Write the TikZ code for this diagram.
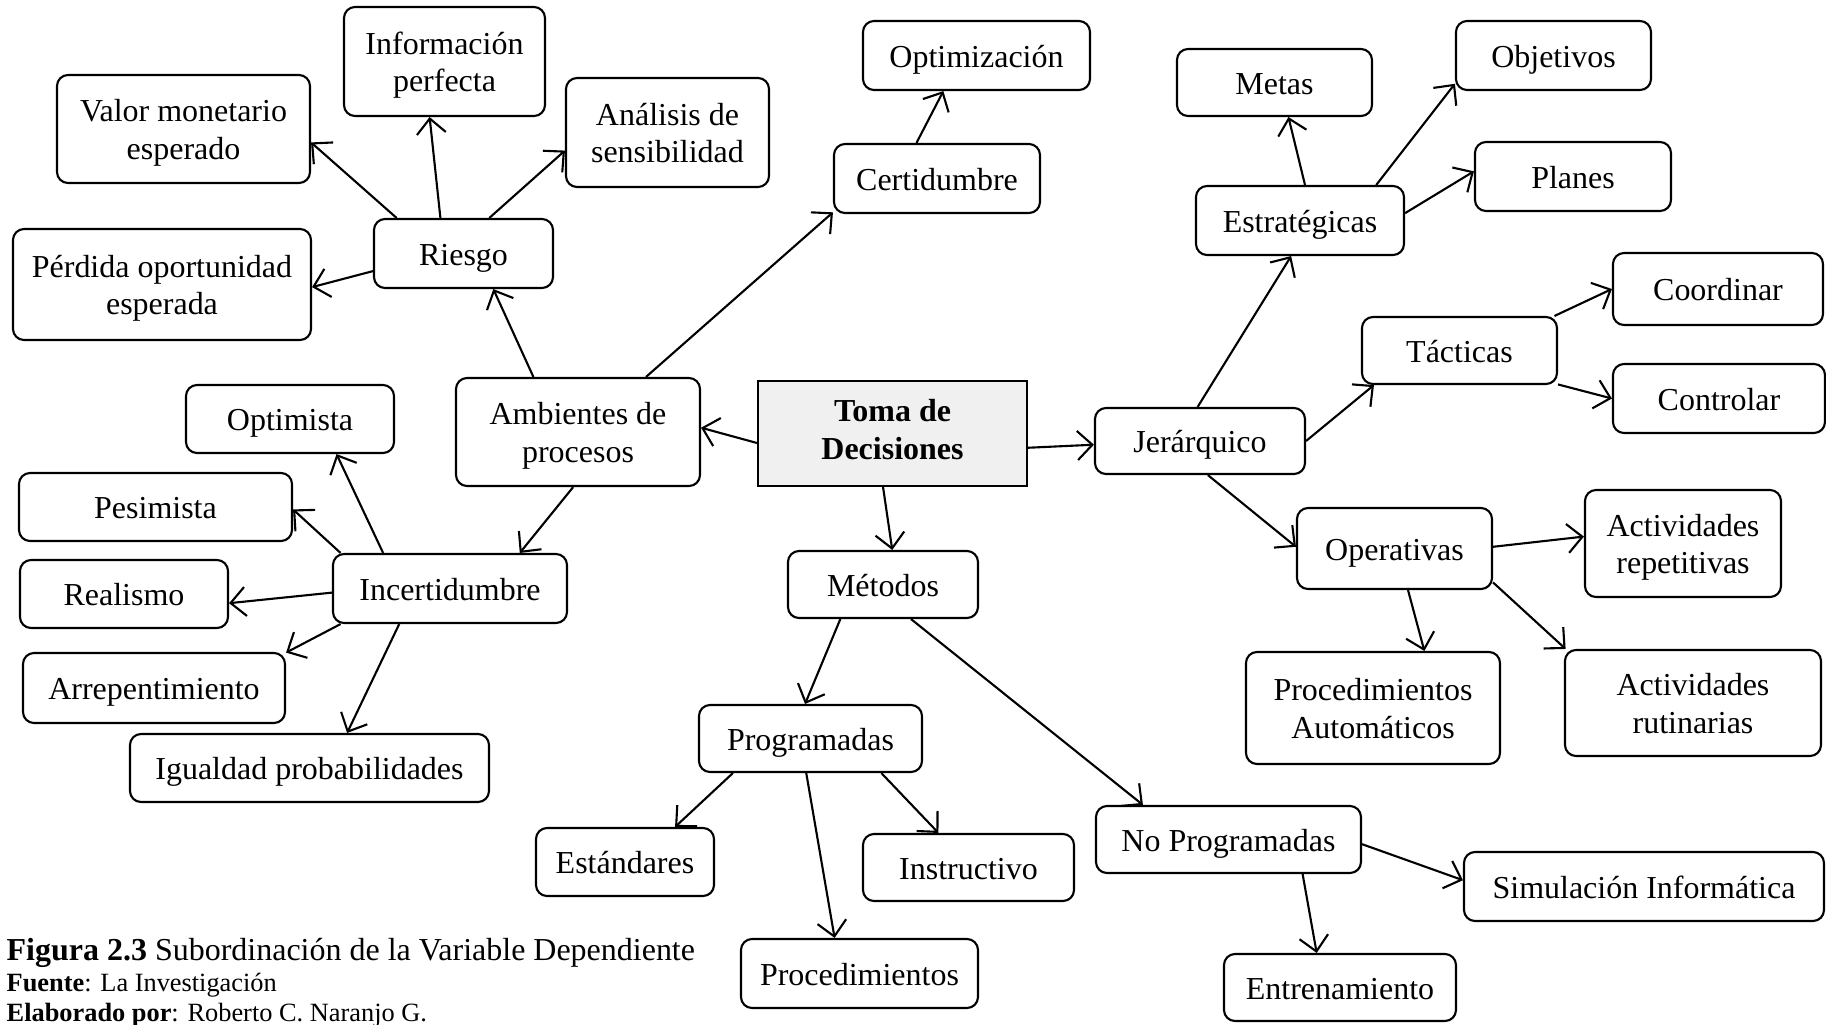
\documentclass[tikz,border=0pt]{standalone}
\usepackage{fontspec}
\setmainfont{Liberation Serif}
\usetikzlibrary{arrows.meta}
\definecolor{tomagray}{RGB}{240,240,240}

\begin{document}
\begin{tikzpicture}[
  box/.style={draw, rounded corners=1.1mm, line width=0.6pt, align=center, inner sep=0pt,
    font=\fontsize{9.1}{10.6}\selectfont, text height=9.2pt, text depth=2.6pt},
  box2/.style={box, text height=19.8pt, text depth=2.6pt},
  mainbox/.style={draw, fill=tomagray, line width=0.6pt, align=center, inner sep=0pt,
    font=\bfseries\fontsize{9.1}{10.8}\selectfont, text height=17.3pt, text depth=2.6pt},
  arr/.style={line width=0.6pt, -{Straight Barb[length=1.5mm,width=2.9mm]}},
  note/.style={anchor=base west, inner sep=0pt}
]
  \useasboundingbox (0,0) rectangle (18.26,-10.24);
  % ambientes
  \node[box2, minimum width=2.01cm, minimum height=1.09cm] (info) at (4.445,-0.615) {Información\\perfecta};
  \node[box2, minimum width=2.53cm, minimum height=1.08cm] (valor) at (1.835,-1.29) {Valor monetario\\esperado};
  \node[box2, minimum width=2.03cm, minimum height=1.09cm] (analisis) at (6.675,-1.325) {Análisis de\\sensibilidad};
  \node[box, minimum width=1.79cm, minimum height=0.69cm] (riesgo) at (4.635,-2.535) {Riesgo};
  \node[box2, minimum width=2.98cm, minimum height=1.11cm] (perdida) at (1.62,-2.845) {Pérdida oportunidad\\esperada};
  \node[box, minimum width=2.27cm, minimum height=0.69cm] (optimiz) at (9.765,-0.555) {Optimización};
  \node[box, minimum width=2.06cm, minimum height=0.69cm] (certid) at (9.37,-1.785) {Certidumbre};
  \node[box, minimum width=2.08cm, minimum height=0.68cm] (optimista) at (2.90,-4.19) {Optimista};
  \node[box2, minimum width=2.44cm, minimum height=1.08cm] (ambientes) at (5.78,-4.32) {Ambientes de\\procesos};
  \node[box, minimum width=2.73cm, minimum height=0.68cm] (pesimista) at (1.555,-5.07) {Pesimista};
  \node[box, minimum width=2.34cm, minimum height=0.69cm] (incert) at (4.50,-5.885) {Incertidumbre};
  \node[box, minimum width=2.08cm, minimum height=0.68cm] (realismo) at (1.24,-5.94) {Realismo};
  \node[box, minimum width=2.62cm, minimum height=0.70cm] (arrep) at (1.54,-6.88) {Arrepentimiento};
  \node[box, minimum width=3.59cm, minimum height=0.68cm] (igualdad) at (3.095,-7.68) {Igualdad probabilidades};
  % centro
  \node[mainbox, minimum width=2.69cm, minimum height=1.05cm] (toma) at (8.925,-4.335) {Toma de\\Decisiones};
  % jerarquico
  \node[box, minimum width=2.10cm, minimum height=0.66cm] (jerarq) at (12.00,-4.41) {Jerárquico};
  \node[box, minimum width=1.95cm, minimum height=0.67cm] (metas) at (12.745,-0.825) {Metas};
  \node[box, minimum width=1.95cm, minimum height=0.69cm] (objetivos) at (15.535,-0.555) {Objetivos};
  \node[box, minimum width=1.96cm, minimum height=0.69cm] (planes) at (15.73,-1.765) {Planes};
  \node[box, minimum width=2.08cm, minimum height=0.69cm] (estrat) at (13.00,-2.205) {Estratégicas};
  \node[box, minimum width=2.10cm, minimum height=0.72cm] (coordinar) at (17.18,-2.89) {Coordinar};
  \node[box, minimum width=1.95cm, minimum height=0.67cm] (tacticas) at (14.595,-3.505) {Tácticas};
  \node[box, minimum width=2.12cm, minimum height=0.69cm] (controlar) at (17.19,-3.985) {Controlar};
  \node[box, minimum width=1.95cm, minimum height=0.81cm] (operativas) at (13.945,-5.485) {Operativas};
  \node[box2, minimum width=1.96cm, minimum height=1.07cm] (actrep) at (16.83,-5.435) {Actividades\\repetitivas};
  \node[box2, minimum width=2.54cm, minimum height=1.12cm] (procaut) at (13.73,-7.08) {Procedimientos\\Automáticos};
  \node[box2, minimum width=2.56cm, minimum height=1.06cm] (actrut) at (16.93,-7.03) {Actividades\\rutinarias};
  % metodos
  \node[box, minimum width=1.90cm, minimum height=0.67cm] (metodos) at (8.83,-5.845) {Métodos};
  \node[box, minimum width=2.23cm, minimum height=0.67cm] (programadas) at (8.105,-7.385) {Programadas};
  \node[box, minimum width=1.78cm, minimum height=0.68cm] (estandares) at (6.25,-8.62) {Estándares};
  \node[box, minimum width=2.11cm, minimum height=0.67cm] (instructivo) at (9.685,-8.675) {Instructivo};
  \node[box, minimum width=2.37cm, minimum height=0.69cm] (procedim) at (8.595,-9.735) {Procedimientos};
  \node[box, minimum width=2.65cm, minimum height=0.67cm] (noprog) at (12.285,-8.395) {No Programadas};
  \node[box, minimum width=3.60cm, minimum height=0.69cm] (simulacion) at (16.44,-8.865) {Simulación Informática};
  \node[box, minimum width=2.32cm, minimum height=0.67cm] (entrenam) at (13.40,-9.875) {Entrenamiento};

  \draw[arr] (riesgo.152) -- (valor.-6);
  \draw[arr] (riesgo.123) -- (info.255);
  \draw[arr] (riesgo.54) -- (analisis.190);
  \draw[arr] (riesgo.191) -- (perdida.-1);
  \draw[arr] (ambientes.129) -- (riesgo.-50);
  \draw[arr] (ambientes.39) -- (certid.198);
  \draw[arr] (certid.120) -- (optimiz.227);
  \draw[arr] (toma.184) -- (ambientes.2);
  \draw[arr] (ambientes.265) -- (incert.27);
  \draw[arr] (incert.152) -- (optimista.-37);
  \draw[arr] (incert.162) -- (pesimista.-1);
  \draw[arr] (incert.182) -- (realismo.-5);
  \draw[arr] (incert.198) -- (arrep.15);
  \draw[arr] (incert.215) -- (igualdad.43);
  \draw[arr] (toma.-6) -- (jerarq.182);
  \draw[arr] (toma.260) -- (metodos.75);
  \draw[arr] (jerarq.94) -- (estrat.256);
  \draw[arr] (estrat.82) -- (metas.-68);
  \draw[arr] (estrat.25) -- (objetivos.196);
  \draw[arr] (estrat.4) -- (planes.177);
  \draw[arr] (jerarq.0) -- (tacticas.202);
  \draw[arr] (tacticas.20) -- (coordinar.180);
  \draw[arr] (tacticas.-19) -- (controlar.180);
  \draw[arr] (jerarq.-77) -- (operativas.179);
  \draw[arr] (operativas.1) -- (actrep.176);
  \draw[arr] (operativas.-72) -- (procaut.48);
  \draw[arr] (operativas.-19) -- (actrut.157);
  \draw[arr] (metodos.219) -- (programadas.99);
  \draw[arr] (metodos.-51) -- (noprog.158);
  \draw[arr] (programadas.204) -- (estandares.35);
  \draw[arr] (programadas.263) -- (procedim.125);
  \draw[arr] (programadas.-26) -- (instructivo.131);
  \draw[arr] (noprog.-2) -- (simulacion.178);
  \draw[arr] (noprog.-25) -- (entrenam.124);

  \node[note, font=\fontsize{9.1}{11}\selectfont] (figura) at (0.06,-9.605) {\textbf{Figura 2.3} Subordinación de la Variable Dependiente};
  \node[note, font=\fontsize{7.5}{8}\selectfont] (fuente) at (0.06,-9.91) {\textbf{Fuente}: La Investigación};
  \node[note, font=\fontsize{7.5}{8}\selectfont] (elaborado) at (0.06,-10.215) {\textbf{Elaborado por}: Roberto C. Naranjo G.};
\end{tikzpicture}
\end{document}
